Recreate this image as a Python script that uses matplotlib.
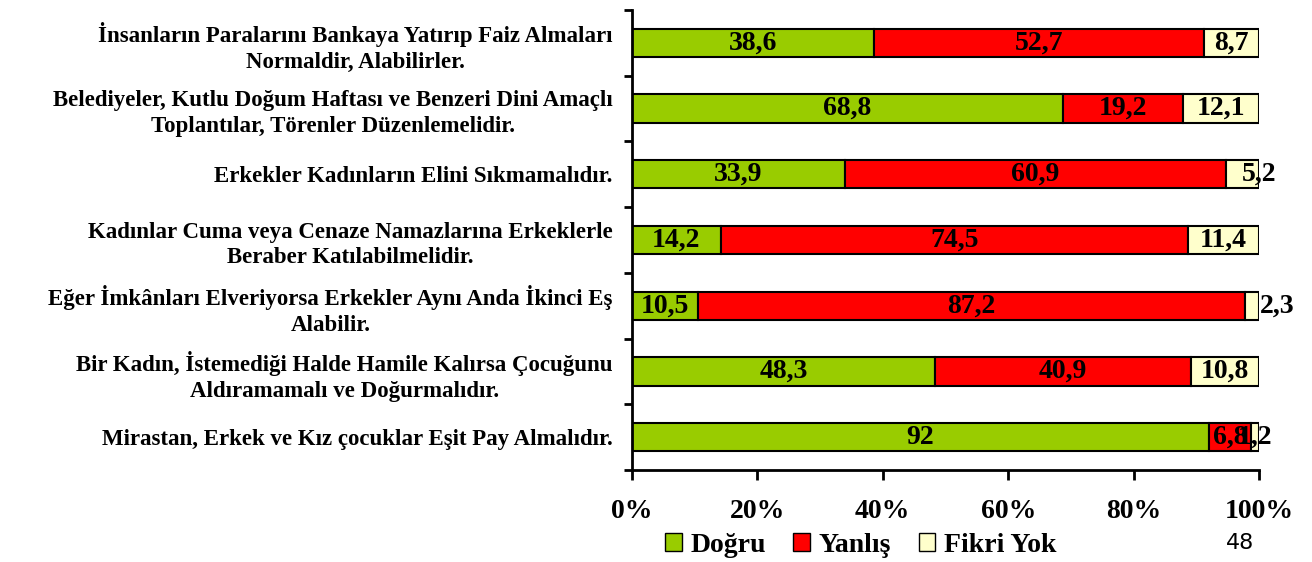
import matplotlib.pyplot as plt
from matplotlib.ticker import FixedLocator, PercentFormatter
from matplotlib.patches import Patch

plt.rcParams['font.family'] = ['Liberation Serif', 'DejaVu Serif']
plt.rcParams['font.weight'] = 'bold'

# statements, top to bottom
questions = [
    "İnsanların Paralarını Bankaya Yatırıp Faiz Almaları\nNormaldir, Alabilirler.",
    "Belediyeler, Kutlu Doğum Haftası ve Benzeri Dini Amaçlı\nToplantılar, Törenler Düzenlemelidir.",
    "Erkekler Kadınların Elini Sıkmamalıdır.",
    "Kadınlar Cuma veya Cenaze Namazlarına Erkeklerle\nBeraber Katılabilmelidir.",
    "Eğer İmkânları Elveriyorsa Erkekler Aynı Anda İkinci Eş\nAlabilir.",
    "Bir Kadın, İstemediği Halde Hamile Kalırsa Çocuğunu\nAldıramamalı ve Doğurmalıdır.",
    "Mirastan, Erkek ve Kız çocuklar Eşit Pay Almalıdır.",
]
dogru = [38.6, 68.8, 33.9, 14.2, 10.5, 48.3, 92]
yanlis = [52.7, 19.2, 60.9, 74.5, 87.2, 40.9, 6.8]
fikri_yok = [8.7, 12.1, 5.2, 11.4, 2.3, 10.8, 1.2]
series_names = ["Doğru", "Yanlış", "Fikri Yok"]

colors = ["#99CC00", "#FF0000", "#FFFFCC"]
# label nudges (in % units) for the thin end segments
nudge = {(2, 2): 2.6, (4, 2): 4.0}

fig = plt.figure(figsize=(13.12, 5.62), dpi=100)
ax = fig.add_axes([0.4817, 0.1637, 0.4779, 0.8185])

rows = range(len(questions))
left = [0.0] * len(questions)
for s, vals in enumerate([dogru, yanlis, fikri_yok]):
    total = [a + b + c for a, b, c in zip(dogru, yanlis, fikri_yok)]
    pct = [v / t * 100 for v, t in zip(vals, total)]
    ax.barh(rows, pct, left=left, height=0.43, color=colors[s],
            edgecolor="black", linewidth=1.5, label=series_names[s])
    for i, (l, p, v) in enumerate(zip(left, pct, vals)):
        x = l + p / 2 + nudge.get((i, s), 0)
        ax.text(x, i, f"{v:g}".replace(".", ","), ha="center", va="center",
                fontsize=20, fontweight="bold", clip_on=False)
    left = [l + p for l, p in zip(left, pct)]

ax.set_xlim(0, 100)
ax.set_ylim(len(questions) - 0.5, -0.5)
ax.set_yticks(list(rows))
ax.set_yticklabels(questions, fontsize=16.5, fontweight="bold",
                   multialignment="center", linespacing=1.3)
ax.tick_params(axis="y", which="major", length=0, pad=14)
ax.yaxis.set_minor_locator(FixedLocator([i - 0.5 for i in range(len(questions) + 1)]))
ax.tick_params(axis="y", which="minor", length=6, width=2, direction="out")

ax.set_xticks([0, 20, 40, 60, 80, 100])
ax.xaxis.set_major_formatter(PercentFormatter(decimals=0))
ax.tick_params(axis="x", length=7, width=2, direction="out", labelsize=20, pad=14)
for t in ax.get_xticklabels():
    t.set_fontweight("bold")

for side in ["top", "right"]:
    ax.spines[side].set_visible(False)
for side in ["left", "bottom"]:
    ax.spines[side].set_linewidth(2)

handles = [Patch(facecolor=c, edgecolor="black", linewidth=1) for c in colors]
fig.legend(handles, series_names, loc="center", bbox_to_anchor=(0.656, 0.03),
           ncol=3, frameon=False, prop={"size": 20, "weight": "bold"},
           handlelength=0.6, handleheight=0.6, handletextpad=0.3,
           columnspacing=1.0)

fig.text(0.945, 0.033, "48", fontsize=16, family="DejaVu Sans",
         fontweight="normal", ha="center", va="center")

fig.savefig("out.png", dpi=100)
